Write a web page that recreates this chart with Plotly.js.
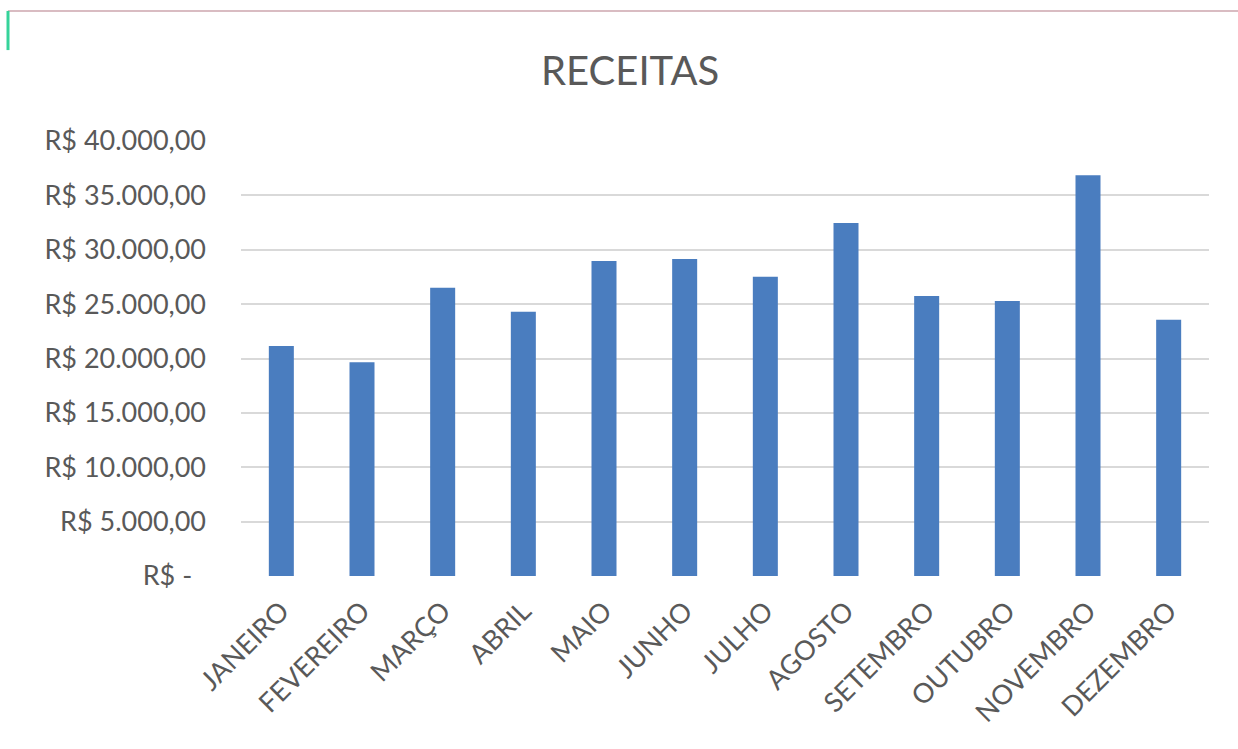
<!DOCTYPE html>
<html>
<head>
<meta charset="utf-8">
<script src="https://cdn.plot.ly/plotly-3.0.1.min.js"></script>
<style>html,body{margin:0;padding:0;background:#fff;}#chart{width:1238px;height:749px;}</style>
</head>
<body>
<div id="chart"></div>
<script>
const months = ['JANEIRO','FEVEREIRO','MARÇO','ABRIL','MAIO','JUNHO','JULHO','AGOSTO','SETEMBRO','OUTUBRO','NOVEMBRO','DEZEMBRO'];
const receitas = [21150, 19650, 26500, 24300, 28970, 29150, 27520, 32460, 25750, 25290, 36840, 23570];
const yTickVals = [0, 5000, 10000, 15000, 20000, 25000, 30000, 35000, 40000];
const yTickText = ['R$ -\u00a0\u00a0', 'R$ 5.000,00', 'R$ 10.000,00', 'R$ 15.000,00', 'R$ 20.000,00', 'R$ 25.000,00', 'R$ 30.000,00', 'R$ 35.000,00', 'R$ 40.000,00'];

const trace = {
  type: 'bar',
  x: months,
  y: receitas,
  marker: {color: '#4a7dbf'},
  hoverinfo: 'x+y'
};

const layout = {
  width: 1238,
  height: 749,
  margin: {l: 241, r: 29, t: 141, b: 173},
  paper_bgcolor: '#ffffff',
  plot_bgcolor: '#ffffff',
  font: {family: 'Lato, "Open Sans", sans-serif', color: '#595959'},
  title: {
    text: 'RECEITAS',
    font: {family: 'Lato, "Open Sans", sans-serif', size: 40, color: '#595959'},
    x: 0.509, xref: 'container', xanchor: 'center',
    y: 0.905, yref: 'container', yanchor: 'middle'
  },
  bargap: 0.69,
  showlegend: false,
  xaxis: {
    type: 'category',
    tickangle: -45,
    tickfont: {family: 'Lato, "Open Sans", sans-serif', size: 27, color: '#595959'},
    showgrid: false,
    showline: false,
    zeroline: false,
    ticks: '',
    ticklabelstandoff: 13
  },
  yaxis: {
    range: [0, 40000],
    tickmode: 'array',
    tickvals: yTickVals,
    ticktext: yTickText,
    tickfont: {family: 'Lato, "Open Sans", sans-serif', size: 27, color: '#595959'},
    showgrid: true,
    gridcolor: '#d9d9d9',
    gridwidth: 2,
    zeroline: false,
    showline: false,
    ticks: '',
    ticklabelstandoff: 34
  },
  shapes: [
    {type: 'line', xref: 'paper', yref: 'paper', x0: -0.2407, x1: 1.03, y0: 1.299, y1: 1.299,
     line: {color: '#d9bcc2', width: 2}},
    {type: 'line', xref: 'paper', yref: 'paper', x0: -0.2407, x1: -0.2407, y0: 1.299, y1: 1.209,
     line: {color: '#35d39a', width: 3}}
  ]
};

Plotly.newPlot('chart', [trace], layout, {displayModeBar: false, staticPlot: true});
</script>
</body>
</html>
